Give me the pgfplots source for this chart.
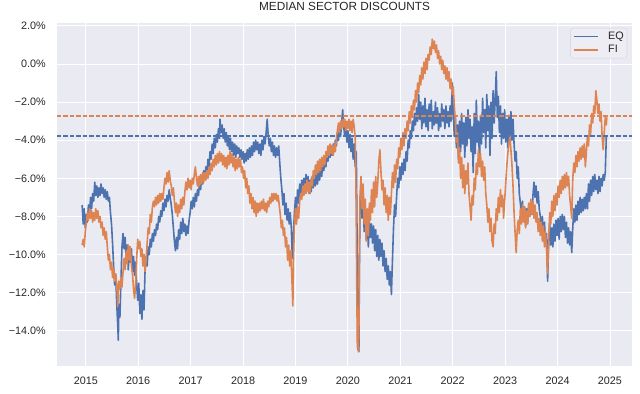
\documentclass[border=0pt]{standalone}
\usepackage{fontspec}
\setmainfont{Liberation Sans}
\usepackage{pgfplots}
\pgfplotsset{compat=1.18}
\definecolor{sbblue}{HTML}{4C72B0}
\definecolor{sborange}{HTML}{DD8452}
\definecolor{sbbg}{HTML}{EAEAF2}
\definecolor{sbtext}{HTML}{262626}
\definecolor{legbg}{HTML}{EDEDF3}
\definecolor{legedge}{HTML}{D2D2DA}
\begin{document}
\begin{tikzpicture}
\begin{axis}[
  scale only axis,
  width=575bp, height=343bp,
  xmin=2014.45, xmax=2025.42,
  ymin=-15.85, ymax=2.15,
  axis background/.style={fill=sbbg},
  axis line style={draw=none},
  grid=major,
  grid style={white, line width=0.9bp},
  major tick length=0pt,
  tick style={draw=none},
  xtick={2015,2016,2017,2018,2019,2020,2021,2022,2023,2024,2025},
  xticklabels={2015,2016,2017,2018,2019,2020,2021,2022,2023,2024,2025},
  ytick={-14,-12,-10,-8,-6,-4,-2,0,2},
  yticklabels={−14.0\%,−12.0\%,−10.0\%,−8.0\%,−6.0\%,−4.0\%,−2.0\%,0.0\%,2.0\%},
  tick label style={font=\fontsize{10.8bp}{13bp}\selectfont, text=sbtext, inner sep=0pt},
  yticklabel style={anchor=east, xshift=-11bp},
  xticklabel style={anchor=north, yshift=-10.5bp},
  title={MEDIAN SECTOR DISCOUNTS},
  title style={font=\fontsize{11.8bp}{14bp}\selectfont, text=sbtext, at={(0.5,1)}, anchor=base, yshift=6.5bp, inner sep=0pt},
  legend style={at={(1,1)}, anchor=north east, xshift=-5bp, yshift=-5bp,
    fill=legbg, draw=legedge, rounded corners=2.5bp,
    inner xsep=3bp, inner ysep=3bp,
    font=\fontsize{10.8bp}{13bp}\selectfont, text=sbtext,
    row sep=3bp, column sep=9bp,
    nodes={inner sep=0pt, text height=8bp, text depth=2.5bp}},
  legend cell align=left,
  legend image code/.code={\draw[#1, line width=1.6bp] (0bp,0bp) -- (24bp,0bp);},
]
\addplot[draw=none, forget plot] coordinates {(2015,-5)};
\addplot[draw=sbblue, line width=1.6bp, line join=round] coordinates {
(2014.93,-7.4)(2014.95,-8.4)(2014.97,-7.6)(2014.99,-8.6)(2015.01,-7.9)(2015.03,-8.3)(2015.05,-7.4)(2015.07,-7.9)(2015.09,-7.0)(2015.11,-7.6)(2015.13,-6.8)(2015.15,-7.2)(2015.17,-6.2)(2015.19,-6.9)(2015.21,-6.4)(2015.23,-7.0)(2015.25,-6.5)(2015.27,-6.9)(2015.29,-6.3)(2015.31,-6.8)(2015.33,-6.5)(2015.35,-7.0)(2015.37,-6.6)(2015.39,-7.1)(2015.41,-6.7)(2015.43,-7.2)(2015.45,-7.0)(2015.47,-7.8)(2015.49,-8.4)(2015.51,-9.4)(2015.53,-10.6)(2015.55,-11.6)(2015.57,-11.1)(2015.59,-12.6)(2015.61,-13.8)(2015.62,-14.5)(2015.63,-12.6)(2015.65,-13.3)(2015.67,-11.4)(2015.69,-9.6)(2015.71,-8.9)(2015.73,-9.7)(2015.75,-9.1)(2015.77,-10.3)(2015.79,-9.5)(2015.81,-10.8)(2015.83,-9.6)(2015.85,-10.4)(2015.87,-9.7)(2015.89,-10.9)(2015.91,-10.1)(2015.93,-11.1)(2015.95,-10.4)(2015.97,-11.6)(2015.99,-12.4)(2016.01,-11.5)(2016.03,-13.1)(2016.05,-12.1)(2016.07,-13.4)(2016.09,-11.9)(2016.11,-12.9)(2016.13,-10.8)(2016.15,-10.1)(2016.17,-10.6)(2016.19,-9.6)(2016.21,-10.0)(2016.23,-9.2)(2016.25,-9.6)(2016.27,-8.9)(2016.29,-9.3)(2016.31,-8.7)(2016.33,-9.0)(2016.35,-8.4)(2016.37,-8.7)(2016.39,-8.0)(2016.41,-8.3)(2016.43,-7.7)(2016.45,-8.0)(2016.47,-7.3)(2016.49,-7.7)(2016.51,-7.1)(2016.53,-7.5)(2016.55,-6.9)(2016.57,-7.2)(2016.59,-6.6)(2016.61,-7.0)(2016.63,-7.4)(2016.65,-7.9)(2016.67,-8.6)(2016.69,-9.3)(2016.71,-9.8)(2016.73,-9.1)(2016.75,-9.7)(2016.77,-8.7)(2016.79,-9.2)(2016.81,-8.3)(2016.83,-8.9)(2016.85,-8.1)(2016.87,-8.8)(2016.89,-8.4)(2016.91,-9.0)(2016.93,-8.5)(2016.95,-8.9)(2016.97,-8.2)(2016.99,-7.8)
(2017.01,-7.2)(2017.03,-7.6)(2017.05,-7.0)(2017.07,-7.5)(2017.09,-6.8)(2017.11,-7.2)(2017.13,-6.6)(2017.15,-6.9)(2017.17,-6.2)(2017.19,-6.6)(2017.21,-5.9)(2017.23,-6.3)(2017.25,-5.6)(2017.27,-6.0)(2017.29,-5.4)(2017.31,-5.8)(2017.33,-5.0)(2017.35,-5.4)(2017.37,-4.6)(2017.39,-5.0)(2017.41,-4.2)(2017.43,-4.7)(2017.45,-3.9)(2017.47,-4.4)(2017.49,-3.7)(2017.51,-4.1)(2017.53,-3.4)(2017.55,-3.9)(2017.56,-2.9)(2017.58,-3.6)(2017.60,-3.2)(2017.62,-3.9)(2017.64,-3.4)(2017.66,-4.1)(2017.68,-3.6)(2017.70,-4.3)(2017.72,-3.8)(2017.74,-4.5)(2017.76,-3.9)(2017.78,-4.6)(2017.80,-4.1)(2017.82,-4.8)(2017.84,-4.2)(2017.86,-4.9)(2017.88,-4.3)(2017.90,-4.7)(2017.92,-4.4)(2017.94,-4.9)(2017.96,-4.5)(2017.98,-5.0)(2018.00,-4.6)(2018.02,-5.2)(2018.04,-4.7)(2018.06,-5.1)(2018.08,-4.5)(2018.10,-5.0)(2018.12,-4.4)(2018.14,-4.9)(2018.16,-4.3)(2018.18,-4.8)(2018.20,-4.1)(2018.22,-4.6)(2018.24,-4.0)(2018.26,-4.5)(2018.28,-4.1)(2018.30,-4.7)(2018.32,-4.2)(2018.34,-4.8)(2018.36,-4.0)(2018.38,-4.5)(2018.40,-3.8)(2018.42,-4.2)(2018.44,-3.6)(2018.46,-2.9)(2018.48,-3.8)(2018.50,-4.3)(2018.52,-3.9)(2018.54,-4.6)(2018.56,-4.1)(2018.58,-4.8)(2018.60,-4.3)(2018.62,-4.9)(2018.64,-4.4)(2018.66,-4.8)(2018.68,-4.3)(2018.70,-5.2)(2018.72,-6.0)(2018.74,-6.6)(2018.76,-7.4)(2018.78,-6.8)(2018.80,-7.9)(2018.82,-7.3)(2018.84,-8.2)(2018.86,-7.6)(2018.88,-8.4)(2018.90,-7.8)(2018.92,-8.6)(2018.94,-10.2)(2018.96,-8.9)(2018.98,-7.8)
(2019.00,-7.0)(2019.02,-7.7)(2019.04,-6.6)(2019.06,-7.3)(2019.08,-6.3)(2019.10,-6.9)(2019.12,-6.1)(2019.14,-6.7)(2019.16,-6.0)(2019.18,-6.6)(2019.20,-5.8)(2019.22,-6.5)(2019.24,-5.9)(2019.26,-6.8)(2019.28,-6.1)(2019.30,-6.7)(2019.32,-5.9)(2019.34,-6.5)(2019.36,-5.8)(2019.38,-6.4)(2019.40,-5.7)(2019.42,-6.3)(2019.44,-5.6)(2019.46,-6.1)(2019.48,-5.4)(2019.50,-5.9)(2019.52,-5.2)(2019.54,-5.6)(2019.56,-4.9)(2019.58,-5.4)(2019.60,-4.7)(2019.62,-5.1)(2019.64,-4.5)(2019.66,-4.9)(2019.68,-4.3)(2019.70,-4.8)(2019.72,-4.2)(2019.74,-4.6)(2019.76,-4.0)(2019.78,-4.3)(2019.80,-3.6)(2019.82,-4.0)(2019.84,-3.3)(2019.86,-3.8)(2019.88,-3.1)(2019.90,-2.4)(2019.92,-3.3)(2019.94,-3.8)(2019.96,-3.2)(2019.98,-4.1)(2020.00,-3.5)(2020.02,-4.4)(2020.04,-3.7)(2020.06,-4.6)(2020.08,-3.9)(2020.10,-5.0)(2020.12,-4.2)(2020.14,-5.4)(2020.16,-4.6)(2020.17,-7.5)(2020.18,-11.0)(2020.19,-15.0)(2020.20,-14.6)(2020.21,-15.1)(2020.22,-10.5)(2020.23,-7.8)(2020.25,-6.3)(2020.27,-8.1)(2020.29,-6.6)(2020.31,-8.8)(2020.33,-7.4)(2020.35,-9.2)(2020.37,-8.0)(2020.39,-9.6)(2020.41,-8.3)(2020.43,-9.1)(2020.45,-8.4)(2020.47,-9.4)(2020.49,-8.5)(2020.51,-9.8)(2020.53,-8.7)(2020.55,-10.1)(2020.57,-9.0)(2020.59,-10.3)(2020.61,-9.2)(2020.63,-10.1)(2020.65,-9.4)(2020.67,-10.6)(2020.69,-9.8)(2020.71,-10.9)(2020.73,-10.2)(2020.75,-11.3)(2020.77,-10.6)(2020.79,-11.6)(2020.81,-10.9)(2020.83,-12.1)(2020.85,-10.3)(2020.87,-8.6)(2020.89,-7.4)(2020.91,-8.0)(2020.93,-6.9)(2020.95,-6.0)(2020.97,-6.5)(2020.99,-5.4)
(2021.01,-6.1)(2021.03,-5.2)(2021.05,-5.8)(2021.07,-5.0)(2021.09,-5.6)(2021.11,-4.6)(2021.13,-5.1)(2021.15,-4.0)(2021.17,-4.4)(2021.19,-3.5)(2021.21,-3.9)(2021.23,-3.0)(2021.25,-3.5)(2021.27,-2.6)(2021.29,-3.2)(2021.31,-2.3)(2021.33,-3.0)(2021.35,-1.6)(2021.37,-2.9)(2021.39,-2.0)(2021.41,-3.4)(2021.43,-2.2)(2021.45,-3.1)(2021.47,-1.8)(2021.49,-3.3)(2021.51,-2.4)(2021.53,-3.5)(2021.55,-2.1)(2021.57,-3.0)(2021.59,-1.9)(2021.61,-3.4)(2021.63,-2.5)(2021.65,-3.2)(2021.67,-2.0)(2021.69,-3.1)(2021.71,-2.3)(2021.73,-3.5)(2021.75,-2.6)(2021.77,-3.3)(2021.79,-2.1)(2021.81,-3.0)(2021.83,-2.4)(2021.85,-3.4)(2021.87,-2.2)(2021.89,-3.1)(2021.91,-2.5)(2021.93,-3.3)(2021.95,-2.2)(2021.97,-3.0)(2021.99,-1.0)(2022.01,-2.6)(2022.03,-3.8)(2022.05,-2.7)(2022.07,-4.4)(2022.09,-3.2)(2022.11,-5.0)(2022.13,-3.0)(2022.15,-4.6)(2022.17,-2.6)(2022.19,-4.2)(2022.21,-3.1)(2022.23,-4.9)(2022.25,-2.8)(2022.27,-4.3)(2022.29,-2.4)(2022.31,-3.9)(2022.33,-2.9)(2022.35,-4.6)(2022.37,-3.3)(2022.39,-5.7)(2022.41,-2.6)(2022.43,-4.7)(2022.45,-1.9)(2022.47,-4.1)(2022.49,-3.0)(2022.51,-5.3)(2022.53,-2.7)(2022.55,-4.2)(2022.57,-1.8)(2022.59,-3.6)(2022.61,-2.4)(2022.63,-4.4)(2022.65,-1.6)(2022.67,-3.5)(2022.69,-2.2)(2022.71,-4.8)(2022.73,-2.0)(2022.75,-3.9)(2022.77,-1.4)(2022.79,-3.1)(2022.81,-1.9)(2022.83,-0.4)(2022.85,-2.8)(2022.87,-1.7)(2022.89,-3.6)(2022.91,-2.2)(2022.93,-4.2)(2022.95,-2.6)(2022.97,-3.9)(2022.99,-2.4)
(2023.01,-4.1)(2023.03,-2.9)(2023.05,-4.4)(2023.07,-2.7)(2023.09,-3.8)(2023.11,-2.5)(2023.13,-4.0)(2023.15,-2.9)(2023.17,-4.2)(2023.19,-5.1)(2023.21,-4.6)(2023.23,-6.0)(2023.25,-5.4)(2023.27,-6.8)(2023.29,-7.3)(2023.31,-7.9)(2023.33,-7.2)(2023.35,-8.2)(2023.37,-7.5)(2023.39,-8.5)(2023.41,-7.6)(2023.43,-8.3)(2023.45,-7.4)(2023.47,-8.0)(2023.49,-7.3)(2023.51,-7.9)(2023.53,-6.9)(2023.55,-6.2)(2023.57,-7.0)(2023.59,-6.4)(2023.61,-7.3)(2023.63,-6.7)(2023.65,-7.6)(2023.67,-8.0)(2023.69,-8.7)(2023.71,-8.0)(2023.73,-9.1)(2023.75,-8.3)(2023.77,-9.4)(2023.79,-8.9)(2023.81,-11.4)(2023.83,-9.3)(2023.85,-8.4)(2023.87,-9.5)(2023.89,-8.6)(2023.91,-9.6)(2023.93,-8.4)(2023.95,-9.3)(2023.97,-8.2)(2023.99,-9.0)(2024.01,-8.1)(2024.03,-9.2)(2024.05,-8.0)(2024.07,-8.8)(2024.09,-7.9)(2024.11,-8.7)(2024.13,-8.0)(2024.15,-9.1)(2024.17,-8.3)(2024.19,-9.4)(2024.21,-8.6)(2024.23,-9.5)(2024.25,-8.8)(2024.27,-9.9)(2024.29,-8.6)(2024.31,-7.6)(2024.33,-8.3)(2024.35,-7.4)(2024.37,-8.2)(2024.39,-7.2)(2024.41,-7.9)(2024.43,-7.0)(2024.45,-7.8)(2024.47,-7.1)(2024.49,-7.7)(2024.51,-7.0)(2024.53,-7.6)(2024.55,-6.8)(2024.57,-7.6)(2024.59,-6.3)(2024.61,-7.2)(2024.63,-6.1)(2024.65,-6.9)(2024.67,-5.9)(2024.69,-6.7)(2024.71,-5.8)(2024.73,-6.6)(2024.75,-6.1)(2024.77,-6.8)(2024.79,-5.9)(2024.81,-6.7)(2024.83,-6.0)(2024.85,-6.4)(2024.87,-5.8)(2024.89,-6.1)(2024.91,-5.7)(2024.93,-3.8)
};
\addlegendentry{EQ}
\addplot[draw=sborange, line width=1.6bp, line join=round] coordinates {
(2014.93,-9.5)(2014.95,-9.2)(2014.97,-9.6)(2014.99,-8.8)(2015.01,-8.3)(2015.03,-7.8)(2015.05,-8.2)(2015.07,-7.6)(2015.09,-8.1)(2015.11,-7.7)(2015.13,-8.3)(2015.15,-7.8)(2015.17,-8.2)(2015.19,-7.6)(2015.21,-8.1)(2015.23,-7.7)(2015.25,-8.3)(2015.27,-8.0)(2015.29,-8.6)(2015.31,-8.3)(2015.33,-9.0)(2015.35,-8.6)(2015.37,-9.2)(2015.39,-8.8)(2015.41,-9.6)(2015.43,-10.3)(2015.45,-10.0)(2015.47,-10.8)(2015.49,-10.4)(2015.51,-11.2)(2015.53,-10.7)(2015.55,-11.4)(2015.57,-11.0)(2015.59,-11.6)(2015.61,-12.7)(2015.63,-11.4)(2015.65,-11.8)(2015.67,-11.2)(2015.69,-11.7)(2015.71,-10.9)(2015.73,-10.2)(2015.75,-10.8)(2015.77,-9.8)(2015.79,-10.5)(2015.81,-9.5)(2015.83,-10.3)(2015.85,-9.6)(2015.87,-10.6)(2015.89,-11.0)(2015.91,-11.8)(2015.93,-12.3)(2015.95,-11.6)(2015.97,-10.2)(2015.99,-9.2)(2016.01,-9.7)(2016.03,-9.3)(2016.05,-10.1)(2016.07,-9.7)(2016.09,-10.6)(2016.11,-10.0)(2016.13,-10.9)(2016.15,-10.3)(2016.17,-9.4)(2016.19,-8.6)(2016.21,-8.9)(2016.23,-7.9)(2016.25,-8.3)(2016.27,-7.5)(2016.29,-7.2)(2016.31,-7.5)(2016.33,-7.0)(2016.35,-7.4)(2016.37,-6.9)(2016.39,-7.3)(2016.41,-6.8)(2016.43,-7.2)(2016.45,-6.8)(2016.47,-7.1)(2016.49,-6.5)(2016.51,-6.0)(2016.53,-6.3)(2016.55,-5.7)(2016.57,-6.2)(2016.59,-5.6)(2016.61,-6.1)(2016.63,-6.4)(2016.65,-6.9)(2016.67,-6.5)(2016.69,-7.2)(2016.71,-7.8)(2016.73,-7.3)(2016.75,-8.0)(2016.77,-7.4)(2016.79,-7.8)(2016.81,-7.1)(2016.83,-7.6)(2016.85,-7.0)(2016.87,-7.4)(2016.89,-6.7)(2016.91,-6.2)(2016.93,-6.6)(2016.95,-6.0)(2016.97,-6.5)(2016.99,-6.1)
(2017.01,-6.6)(2017.03,-6.0)(2017.05,-6.3)(2017.07,-5.8)(2017.09,-5.4)(2017.11,-6.0)(2017.13,-6.4)(2017.15,-5.9)(2017.17,-6.4)(2017.19,-5.8)(2017.21,-6.3)(2017.23,-5.7)(2017.25,-6.2)(2017.27,-5.7)(2017.29,-6.1)(2017.31,-5.6)(2017.33,-6.0)(2017.35,-5.4)(2017.37,-5.8)(2017.39,-5.2)(2017.41,-5.6)(2017.43,-5.0)(2017.45,-5.4)(2017.47,-4.8)(2017.49,-5.3)(2017.51,-4.7)(2017.53,-5.2)(2017.55,-4.6)(2017.57,-5.1)(2017.59,-4.7)(2017.61,-5.3)(2017.63,-4.8)(2017.65,-5.4)(2017.67,-4.9)(2017.69,-5.5)(2017.71,-4.8)(2017.73,-5.3)(2017.75,-4.6)(2017.77,-5.2)(2017.79,-4.7)(2017.81,-5.4)(2017.83,-4.9)(2017.85,-5.6)(2017.87,-5.0)(2017.89,-5.5)(2017.91,-4.9)(2017.93,-5.4)(2017.95,-5.0)(2017.97,-5.7)(2017.99,-5.4)(2018.01,-6.0)(2018.03,-5.6)(2018.05,-6.5)(2018.07,-6.0)(2018.09,-6.8)(2018.11,-6.4)(2018.13,-7.3)(2018.15,-6.8)(2018.17,-7.6)(2018.19,-7.0)(2018.21,-7.8)(2018.23,-7.2)(2018.25,-8.0)(2018.27,-7.3)(2018.29,-7.8)(2018.31,-7.3)(2018.33,-7.7)(2018.35,-7.2)(2018.37,-7.6)(2018.39,-7.1)(2018.41,-7.7)(2018.43,-7.3)(2018.45,-7.8)(2018.47,-7.2)(2018.49,-7.5)(2018.51,-7.0)(2018.53,-7.3)(2018.55,-6.8)(2018.57,-7.2)(2018.59,-6.8)(2018.61,-7.1)(2018.63,-6.8)(2018.65,-7.2)(2018.67,-6.9)(2018.69,-7.4)(2018.71,-7.9)(2018.73,-8.6)(2018.75,-8.2)(2018.77,-9.0)(2018.79,-8.6)(2018.81,-9.6)(2018.83,-9.1)(2018.85,-10.3)(2018.87,-9.5)(2018.89,-10.6)(2018.91,-9.8)(2018.93,-11.2)(2018.95,-12.7)(2018.96,-10.4)(2018.98,-8.5)
(2019.00,-7.6)(2019.02,-8.4)(2019.04,-7.5)(2019.06,-8.1)(2019.08,-7.2)(2019.10,-6.8)(2019.12,-7.1)(2019.14,-6.4)(2019.16,-6.9)(2019.18,-6.3)(2019.20,-6.8)(2019.22,-6.1)(2019.24,-6.7)(2019.26,-6.2)(2019.28,-6.8)(2019.30,-6.0)(2019.32,-6.4)(2019.34,-5.6)(2019.36,-6.0)(2019.38,-5.3)(2019.40,-5.8)(2019.42,-5.1)(2019.44,-5.7)(2019.46,-5.0)(2019.48,-5.6)(2019.50,-4.9)(2019.52,-5.4)(2019.54,-4.8)(2019.56,-5.3)(2019.58,-4.6)(2019.60,-4.9)(2019.62,-4.3)(2019.64,-4.8)(2019.66,-4.2)(2019.68,-4.7)(2019.70,-4.3)(2019.72,-4.8)(2019.74,-4.2)(2019.76,-4.6)(2019.78,-3.9)(2019.80,-3.5)(2019.82,-3.1)(2019.84,-3.6)(2019.86,-3.0)(2019.88,-3.4)(2019.90,-2.9)(2019.92,-3.3)(2019.94,-2.9)(2019.96,-3.5)(2019.98,-3.0)(2020.00,-3.4)(2020.02,-2.9)(2020.04,-3.5)(2020.06,-3.0)(2020.08,-3.6)(2020.10,-2.9)(2020.12,-3.3)(2020.14,-3.9)(2020.15,-5.5)(2020.16,-8.5)(2020.17,-12.0)(2020.18,-14.9)(2020.19,-14.6)(2020.20,-15.1)(2020.21,-14.0)(2020.22,-9.5)(2020.23,-7.0)(2020.25,-5.9)(2020.27,-7.6)(2020.29,-6.3)(2020.31,-8.4)(2020.33,-7.1)(2020.35,-9.3)(2020.37,-7.6)(2020.39,-9.0)(2020.41,-7.3)(2020.43,-8.2)(2020.45,-6.6)(2020.47,-7.8)(2020.49,-6.2)(2020.51,-7.5)(2020.53,-5.9)(2020.55,-7.0)(2020.57,-6.2)(2020.59,-5.1)(2020.61,-4.5)(2020.63,-5.6)(2020.65,-6.6)(2020.67,-6.1)(2020.69,-7.4)(2020.71,-6.5)(2020.73,-7.8)(2020.75,-6.9)(2020.77,-8.2)(2020.79,-7.0)(2020.81,-7.9)(2020.83,-6.8)(2020.85,-5.7)(2020.87,-6.5)(2020.89,-5.3)(2020.91,-6.2)(2020.93,-5.0)(2020.95,-5.5)(2020.97,-4.4)(2020.99,-4.9)
(2021.01,-3.9)(2021.03,-4.5)(2021.05,-3.6)(2021.07,-4.3)(2021.09,-3.4)(2021.11,-3.9)(2021.13,-3.0)(2021.15,-3.5)(2021.17,-2.5)(2021.19,-3.1)(2021.21,-2.2)(2021.23,-2.8)(2021.25,-1.9)(2021.27,-2.4)(2021.29,-1.4)(2021.31,-2.0)(2021.33,-1.0)(2021.35,-1.5)(2021.37,-0.6)(2021.39,-1.1)(2021.41,-0.2)(2021.43,-0.8)(2021.45,0.1)(2021.47,-0.5)(2021.49,0.3)(2021.51,-0.3)(2021.53,0.5)(2021.55,0.2)(2021.57,0.9)(2021.59,0.5)(2021.61,1.3)(2021.63,0.8)(2021.65,1.2)(2021.67,0.6)(2021.69,1.0)(2021.71,0.3)(2021.73,0.7)(2021.75,0.0)(2021.77,0.4)(2021.79,-0.3)(2021.81,0.2)(2021.83,-0.5)(2021.85,-0.1)(2021.87,-0.8)(2021.89,-0.2)(2021.91,-0.9)(2021.93,-0.4)(2021.95,-1.3)(2021.97,-0.8)(2021.99,-1.6)(2022.01,-1.2)(2022.03,-2.2)(2022.05,-3.0)(2022.07,-4.1)(2022.09,-3.6)(2022.11,-5.2)(2022.13,-4.4)(2022.15,-6.0)(2022.17,-4.9)(2022.19,-6.5)(2022.21,-5.3)(2022.23,-6.8)(2022.25,-5.6)(2022.27,-6.3)(2022.29,-5.2)(2022.31,-6.8)(2022.33,-7.5)(2022.35,-8.2)(2022.37,-6.9)(2022.39,-7.4)(2022.41,-6.0)(2022.43,-6.6)(2022.45,-5.2)(2022.47,-5.8)(2022.49,-4.5)(2022.51,-5.4)(2022.53,-4.7)(2022.55,-5.9)(2022.57,-5.1)(2022.59,-6.1)(2022.61,-5.4)(2022.63,-6.8)(2022.65,-7.4)(2022.67,-8.3)(2022.69,-7.6)(2022.71,-8.8)(2022.73,-8.1)(2022.75,-9.3)(2022.77,-9.6)(2022.79,-8.4)(2022.81,-8.9)(2022.83,-7.6)(2022.85,-8.2)(2022.87,-7.0)(2022.89,-7.8)(2022.91,-6.6)(2022.93,-7.5)(2022.95,-6.9)(2022.97,-8.1)(2022.99,-7.2)
(2023.01,-6.3)(2023.03,-5.4)(2023.05,-4.7)(2023.07,-4.2)(2023.09,-3.8)(2023.11,-4.5)(2023.13,-5.3)(2023.15,-6.4)(2023.17,-7.8)(2023.19,-8.9)(2023.21,-9.9)(2023.23,-8.7)(2023.25,-8.2)(2023.27,-8.9)(2023.29,-7.6)(2023.31,-8.4)(2023.33,-7.4)(2023.35,-8.3)(2023.37,-7.5)(2023.39,-8.6)(2023.41,-7.7)(2023.43,-8.4)(2023.45,-7.3)(2023.47,-8.0)(2023.49,-7.1)(2023.51,-7.9)(2023.53,-7.2)(2023.55,-8.1)(2023.57,-7.4)(2023.59,-8.3)(2023.61,-7.8)(2023.63,-8.8)(2023.65,-8.1)(2023.67,-9.0)(2023.69,-8.3)(2023.71,-9.3)(2023.73,-8.5)(2023.75,-9.6)(2023.77,-8.8)(2023.79,-9.8)(2023.81,-11.0)(2023.83,-9.2)(2023.85,-7.8)(2023.87,-8.4)(2023.89,-7.2)(2023.91,-8.0)(2023.93,-6.9)(2023.95,-7.7)(2023.97,-6.8)(2023.99,-7.4)(2024.01,-6.4)(2024.03,-7.0)(2024.05,-6.1)(2024.07,-6.8)(2024.09,-5.9)(2024.11,-6.6)(2024.13,-5.8)(2024.15,-6.5)(2024.17,-5.7)(2024.19,-6.4)(2024.21,-5.9)(2024.23,-6.9)(2024.25,-7.5)(2024.27,-8.1)(2024.29,-6.0)(2024.31,-5.2)(2024.33,-5.7)(2024.35,-4.8)(2024.37,-5.4)(2024.39,-4.6)(2024.41,-5.1)(2024.43,-4.4)(2024.45,-5.0)(2024.47,-4.3)(2024.49,-4.9)(2024.51,-4.2)(2024.53,-5.4)(2024.55,-4.6)(2024.57,-3.8)(2024.59,-4.3)(2024.61,-3.2)(2024.63,-3.7)(2024.65,-2.6)(2024.67,-3.1)(2024.69,-2.2)(2024.71,-2.6)(2024.73,-1.4)(2024.75,-1.9)(2024.77,-2.6)(2024.79,-2.1)(2024.81,-3.0)(2024.83,-2.5)(2024.85,-3.8)(2024.87,-4.5)(2024.89,-3.6)(2024.91,-2.8)(2024.93,-3.2)(2024.94,-2.8)
};
\addlegendentry{FI}
\addplot[draw=sbblue, line width=1.3bp, dash pattern=on 4.5bp off 2bp, forget plot] coordinates {(2014.45,-3.78) (2025.42,-3.78)};
\addplot[draw=sborange, line width=1.3bp, dash pattern=on 4.5bp off 2bp, forget plot] coordinates {(2014.45,-2.73) (2025.42,-2.73)};
\coordinate (sw) at (rel axis cs:0,0);
\coordinate (ne) at (rel axis cs:1,1);
\end{axis}
\pgfresetboundingbox
\path[use as bounding box] ([xshift=-57bp,yshift=-28bp]sw) rectangle ([xshift=8bp,yshift=23bp]ne);
\end{tikzpicture}
\end{document}
